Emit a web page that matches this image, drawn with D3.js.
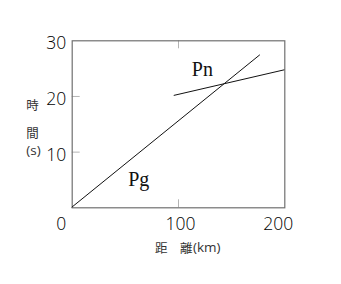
<!DOCTYPE html>
<html><head><meta charset="utf-8">
<script src="https://cdn.jsdelivr.net/npm/d3@7"></script>
<style>
html,body{margin:0;padding:0;background:#fff;}
svg{display:block;}
</style></head>
<body>
<svg id="c" width="341" height="284"></svg>
<script>
// ---- data ----
const xDomain = [0, 200];          // distance (km)
const yDomain = [0, 30];           // time (s)
const xTicks = [100, 200];
const yTicks = [10, 20, 30];
const xTickInner = [100];
const yTickInner = [10, 20];
const pgLine = [[0, 0], [177, 27.4]];
const pnLine = [[96, 20.1], [200, 24.7]];
const seriesLabels = [
  {name: "Pn", x: 113, y: 23.6},
  {name: "Pg", x: 53.2, y: 3.8}
];
const xTitle = "距　離";
const xUnit = "(km)";
const yTitleChars = ["時", "間", "(s)"];

// ---- layout ----
const svg = d3.select("#c");
const x = d3.scaleLinear().domain(xDomain).range([71.7, 284.3]);
const y = d3.scaleLinear().domain(yDomain).range([207.3, 40.3]);
const frameColor = "#707070", tickColor = "#b4b4b4";
const numFont = "'Open Sans', 'Noto Sans', sans-serif";
const cjkFont = "'Noto Sans CJK JP', sans-serif";

// inner tick marks (gray)
const g = svg.append("g");
g.selectAll("line.xb").data(xTickInner).join("line")
  .attr("x1", d => x(d)+0.5).attr("x2", d => x(d)+0.5)
  .attr("y1", y(0)).attr("y2", y(0)-8)
  .attr("stroke", tickColor).attr("stroke-width", 1);
g.selectAll("line.xt").data(xTickInner).join("line")
  .attr("x1", d => x(d)+0.5).attr("x2", d => x(d)+0.5)
  .attr("y1", y(30)).attr("y2", y(30)+8)
  .attr("stroke", tickColor).attr("stroke-width", 1);
g.selectAll("line.yl").data(yTickInner).join("line")
  .attr("x1", x(0)).attr("x2", x(0)+8)
  .attr("y1", d => y(d)+0.5).attr("y2", d => y(d)+0.5)
  .attr("stroke", tickColor).attr("stroke-width", 1);

// frame
svg.append("rect")
  .attr("x", x(0)+0.5).attr("y", y(30)+0.5)
  .attr("width", x(200)-x(0)).attr("height", y(0)-y(30))
  .attr("fill", "none").attr("stroke", frameColor).attr("stroke-width", 1.2);

// lines
const line = d3.line().x(d => x(d[0])).y(d => y(d[1]));
[pgLine, pnLine].forEach(pts => {
  svg.append("path").attr("d", line(pts))
    .attr("fill", "none").attr("stroke", "#111").attr("stroke-width", 1);
});

// series labels
svg.selectAll("text.sl").data(seriesLabels).join("text")
  .attr("x", d => x(d.x)).attr("y", d => y(d.y))
  .attr("font-family", "'Liberation Serif', 'Times New Roman', serif")
  .attr("font-size", 20).attr("fill", "#111")
  .text(d => d.name);

// y tick labels
svg.selectAll("text.yt").data(yTicks).join("text")
  .attr("x", x(0) - 5.5).attr("y", d => y(d) + 2)
  .attr("text-anchor", "end").attr("dominant-baseline", "central")
  .attr("font-family", numFont).attr("font-weight", 300).attr("font-size", 17.5).attr("fill", "#000")
  .text(d => d);

// origin label
svg.append("text")
  .attr("x", x(0) - 10.5).attr("y", y(0) + 16)
  .attr("text-anchor", "middle").attr("dominant-baseline", "central")
  .attr("font-family", numFont).attr("font-weight", 300).attr("font-size", 17.5).attr("fill", "#000")
  .text("0");

// x tick labels
svg.selectAll("text.xt").data(xTicks).join("text")
  .attr("x", d => x(d) + (d === 200 ? -6 : 2.5)).attr("y", y(0) + 15.5)
  .attr("text-anchor", "middle").attr("dominant-baseline", "central")
  .attr("font-family", numFont).attr("font-weight", 300).attr("font-size", 17.5).attr("fill", "#000")
  .text(d => d);

// x title
const xt = svg.append("text")
  .attr("x", 155).attr("y", 247)
  .attr("dominant-baseline", "central")
  .attr("font-family", cjkFont).attr("font-size", 12.5).attr("fill", "#333");
xt.append("tspan").text(xTitle);
xt.append("tspan").attr("font-family", numFont).attr("font-size", 13.5).attr("dx", 0.5).text(xUnit);

// y title (vertical stack)
const yTitlePos = [104.5, 132.3, 150];
svg.selectAll("text.ytl").data(yTitleChars).join("text")
  .attr("x", (d, i) => i === 2 ? 33.5 : 32.5).attr("y", (d, i) => yTitlePos[i])
  .attr("text-anchor", "middle").attr("dominant-baseline", "central")
  .attr("font-family", (d, i) => i === 2 ? numFont : cjkFont)
  .attr("font-size", (d, i) => i === 2 ? 13.5 : 12.5)
  .attr("fill", "#333")
  .text(d => d);
</script>
</body></html>
